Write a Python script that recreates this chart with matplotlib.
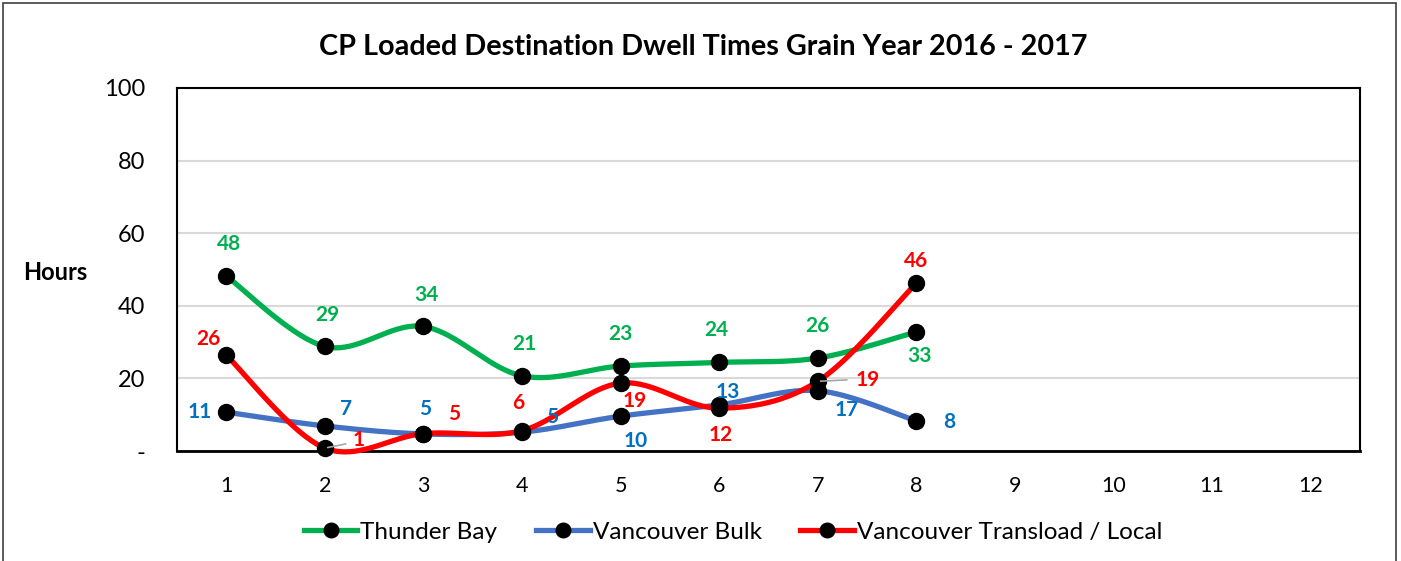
import matplotlib
matplotlib.use("Agg")
import matplotlib.pyplot as plt
import numpy as np
from matplotlib.patches import Rectangle

plt.rcParams['font.family'] = ['Lato', 'DejaVu Sans']

# ---- data ----
x_ticks = list(range(1, 13))
months = [1, 2, 3, 4, 5, 6, 7, 8]
thunder_bay = [48.2, 28.8, 34.3, 20.7, 23.4, 24.4, 25.6, 32.8]
vancouver_bulk = [10.7, 6.9, 4.7, 5.2, 9.6, 12.7, 16.6, 8.3]
vancouver_transload = [26.4, 0.8, 4.8, 5.6, 18.7, 11.8, 19.2, 46.3]
y_ticks = [0, 20, 40, 60, 80, 100]
y_tick_labels = ['-', '20', '40', '60', '80', '100']
series_names = ['Thunder Bay', 'Vancouver Bulk', 'Vancouver Transload / Local']
title = 'CP Loaded Destination Dwell Times Grain Year 2016 - 2017'

# ---- styles ----
line_colors = ['#00B050', '#4472C4', '#FF0000']
label_colors = ['#00B050', '#0070C0', '#FF0000']
# label offsets in points (dx, dy)
offsets = [
    [(2, 23), (2, 23), (2, 23), (2, 23), (0, 23), (-2, 23), (0, 23), (2, -17)],
    [(-19, 0), (15, 12), (1, 18), (22, 11), (11, -18), (6, 9), (21, -14), (24, -1)],
    [(-13, 12), (24, 6), (22, 14), (-3, 20), (10, -13), (1, -19), (36, 1), (0, 16)],
]
leader = {(2, 1): True, (2, 6): True}


def excel_smooth(xs, ys, n=40):
    xs = np.asarray(xs, float)
    ys = np.asarray(ys, float)
    P = np.column_stack([xs, ys])
    Pe = np.vstack([P[0], P, P[-1]])
    out = []
    for i in range(len(P) - 1):
        p0, p1, p2, p3 = Pe[i], Pe[i + 1], Pe[i + 2], Pe[i + 3]
        c1 = p1 + (p2 - p0) / 6.0
        c2 = p2 - (p3 - p1) / 6.0
        t = np.linspace(0, 1, n)[:, None]
        seg = ((1 - t) ** 3) * p1 + 3 * ((1 - t) ** 2) * t * c1 + 3 * (1 - t) * t ** 2 * c2 + t ** 3 * p2
        if i > 0:
            seg = seg[1:]
        out.append(seg)
    out = np.vstack(out)
    return out[:, 0], out[:, 1]


fig = plt.figure(figsize=(14.01, 5.61), dpi=100)
ax = fig.add_axes([177 / 1401, 1 - 451 / 561, (1360 - 177) / 1401, (451 - 88) / 561])

# figure border
fig.patches.append(Rectangle((3 / 1401, -0.05), 1393 / 1401, 1.05 - 3 / 561,
                             transform=fig.transFigure, fill=False, edgecolor='#404040', lw=1.2))

all_series = [thunder_bay, vancouver_bulk, vancouver_transload]
handles = []
for s, (vals, lc) in enumerate(zip(all_series, line_colors)):
    sx, sy = excel_smooth(months, vals)
    ax.plot(sx, sy, color=lc, lw=3.8, solid_capstyle='round', zorder=3 + s, clip_on=False)
    ax.plot(months, vals, 'o', color='black', ms=11.5, zorder=6 + s, clip_on=False)
    h, = ax.plot([], [], color=lc, lw=3.8, marker='o', ms=10.5, mfc='black', mec='black')
    handles.append(h)

for s, vals in enumerate(all_series):
    for i, (xv, yv) in enumerate(zip(months, vals)):
        dx, dy = offsets[s][i]
        ax.annotate(f'{yv:.0f}', (xv, yv), xytext=(dx, dy), textcoords='offset points',
                    ha='center', va='center', color=label_colors[s], fontsize=15,
                    fontweight='bold', zorder=10, annotation_clip=False)
        if leader.get((s, i)):
            ax.annotate('', (xv, yv), xytext=(dx - 9, dy - 3) if i == 1 else (dx - 15, dy),
                        textcoords='offset points',
                        arrowprops=dict(arrowstyle='-', color='#A6A6A6', lw=1.2,
                                        shrinkA=0, shrinkB=2), zorder=9)

ax.set_xlim(0.5, 12.5)
ax.set_ylim(0, 100)
ax.set_xticks(x_ticks)
ax.set_xticklabels([str(v) for v in x_ticks])
ax.set_yticks(y_ticks)
ax.set_yticklabels(y_tick_labels)
ax.tick_params(axis='y', length=0, labelsize=17, pad=23)
ax.tick_params(axis='x', length=0, labelsize=15.5, pad=18)
ax.grid(axis='y', color='#D9D9D9', lw=1.5)
ax.set_axisbelow(True)
for sp in ax.spines.values():
    sp.set_color('black')
    sp.set_linewidth(1.5)
ax.spines['bottom'].set_linewidth(2)

fig.text(55 / 1401, 1 - 272 / 561, 'Hours', ha='center', va='center', fontsize=17, fontweight='bold')
fig.text(703 / 1401, 1 - 47 / 561, title, ha='center', va='center', fontsize=20.7, fontweight='bold')

leg = fig.legend(handles, series_names, loc='center', bbox_to_anchor=(733 / 1401, 1 - 532 / 561),
                 ncol=3, frameon=False, fontsize=17.5, handlelength=2.2, handletextpad=0.12,
                 columnspacing=1.6)

fig.savefig('out.png', dpi=100)
